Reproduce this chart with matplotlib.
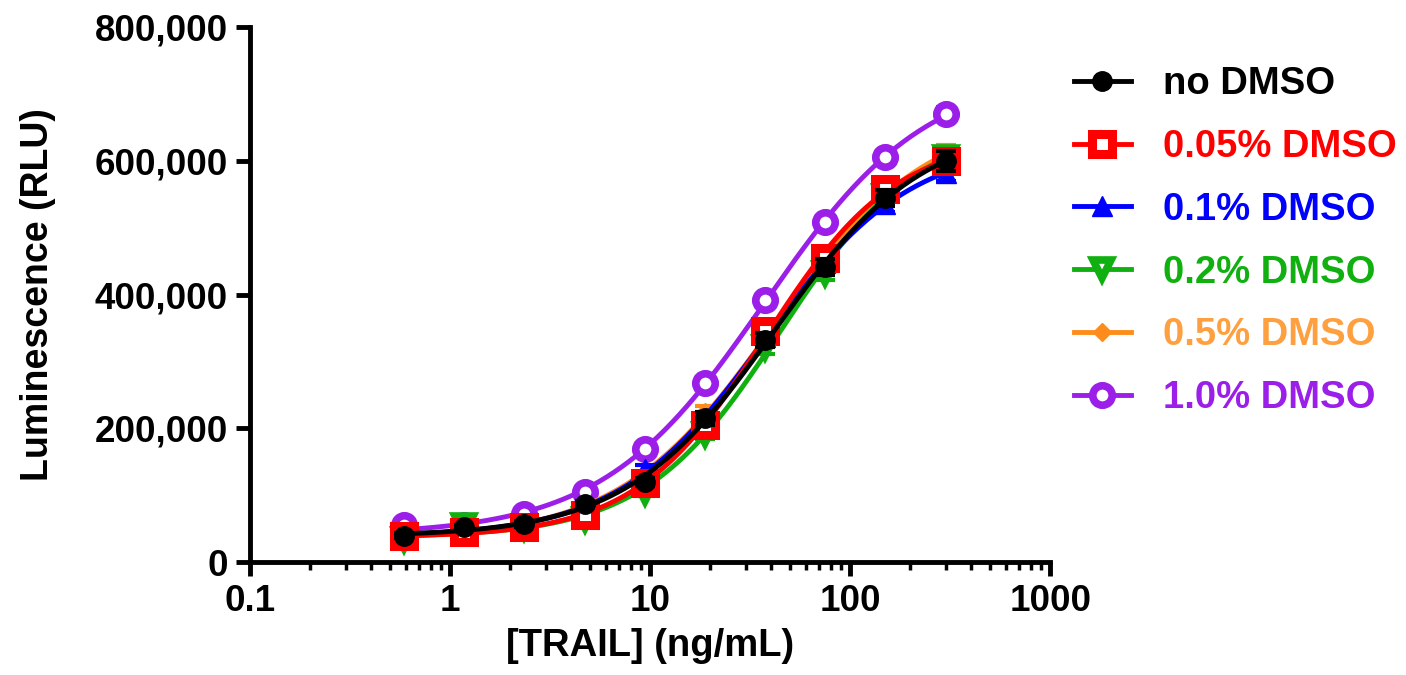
import numpy as np
import matplotlib.pyplot as plt
from matplotlib.ticker import FuncFormatter, LogLocator, NullFormatter

plt.rcParams['font.family'] = ['Liberation Sans', 'DejaVu Sans']
plt.rcParams['font.weight'] = 'bold'

# TRAIL concentration (ng/mL), two-fold dilutions
conc = [0.586, 1.17, 2.34, 4.69, 9.38, 18.75, 37.5, 75, 150, 300]

no_dmso   = [40e3, 52e3, 57e3, 87e3, 120e3, 215e3, 332e3, 442e3, 545e3, 600e3]
dmso_005  = [40e3, 45e3, 52e3, 70e3, 118e3, 205e3, 345e3, 455e3, 558e3, 600e3]
dmso_01   = [42e3, 50e3, 55e3, 80e3, 140e3, 212e3, 337e3, 447e3, 535e3, 582e3]
dmso_02   = [35e3, 55e3, 52e3, 65e3, 105e3, 192e3, 322e3, 432e3, 548e3, 605e3]
dmso_05   = [42e3, 48e3, 58e3, 80e3, 130e3, 225e3, 340e3, 450e3, 550e3, 612e3]
dmso_10   = [55e3, 55e3, 72e3, 105e3, 170e3, 268e3, 392e3, 508e3, 605e3, 670e3]

# error bars (SEM)
err_no   = [4e3, 4e3, 4e3, 5e3, 6e3, 10e3, 10e3, 12e3, 12e3, 15e3]
err_005  = [4e3, 4e3, 4e3, 5e3, 6e3, 8e3, 10e3, 10e3, 10e3, 12e3]
err_01   = [4e3, 4e3, 4e3, 5e3, 6e3, 8e3, 10e3, 10e3, 12e3, 12e3]
err_02   = [4e3, 4e3, 4e3, 5e3, 6e3, 8e3, 10e3, 10e3, 10e3, 12e3]
err_05   = [4e3, 4e3, 4e3, 5e3, 6e3, 8e3, 10e3, 10e3, 10e3, 12e3]
err_10   = [4e3, 4e3, 4e3, 5e3, 6e3, 8e3, 8e3, 8e3, 10e3, 10e3]

labels = ['no DMSO', '0.05% DMSO', '0.1% DMSO', '0.2% DMSO', '0.5% DMSO', '1.0% DMSO']
colors = ['#000000', '#ff0000', '#0000ff', '#10b010', '#ff8c1a', '#9b1fe8']
text_colors = ['#000000', '#ff0000', '#0000ff', '#10b010', '#ffa040', '#9b1fe8']
series = [no_dmso, dmso_005, dmso_01, dmso_02, dmso_05, dmso_10]
errors = [err_no, err_005, err_01, err_02, err_05, err_10]
styles = [dict(marker='o', ms=14, mfc='#000000', mec='#000000', mew=1),
          dict(marker='s', ms=14, mfc='white', mec='#ff0000', mew=6.5),
          dict(marker='^', ms=14, mfc='#0000ff', mec='#0000ff', mew=1),
          dict(marker='v', ms=13, mfc='white', mec='#10b010', mew=5.5),
          dict(marker='D', ms=9, mfc='#ff8c1a', mec='#ff8c1a', mew=1),
          dict(marker='o', ms=14, mfc='white', mec='#9b1fe8', mew=5.5)]


def four_pl(x, p):
    bottom, top, logec, hill = p
    return bottom + (top - bottom) / (1 + 10 ** ((logec - np.log10(x)) * hill))


def fit_4pl(x, y):
    x = np.asarray(x, float)
    y = np.asarray(y, float)
    p = np.array([y.min(), y.max() * 1.1, np.log10(40), 1.0])
    lam = 1e-2
    for _ in range(300):
        r = y - four_pl(x, p)
        J = np.zeros((len(x), 4))
        for k in range(4):
            dp = np.zeros(4)
            dp[k] = 1e-6 * max(abs(p[k]), 1.0)
            J[:, k] = (four_pl(x, p + dp) - four_pl(x, p)) / dp[k]
        A = J.T @ J
        g = J.T @ r
        step = np.linalg.solve(A + lam * np.diag(np.diag(A)), g)
        new = p + step
        if np.sum((y - four_pl(x, new)) ** 2) < np.sum(r ** 2):
            p = new
            lam *= 0.5
        else:
            lam *= 4
    return p


fig = plt.figure(figsize=(14.06, 6.75), dpi=100)
ax = fig.add_axes([0.178, 0.167, 0.569, 0.793])

xs = np.logspace(np.log10(0.586), np.log10(300), 300)
# purple drawn first, black on top
for i in [5, 4, 3, 2, 1, 0]:
    z = 2 + (5 - i) * 3
    p = fit_4pl(conc, series[i])
    ax.plot(xs, four_pl(xs, p), color=colors[i], lw=3.5, zorder=z)
    ax.errorbar(conc, series[i], yerr=errors[i], fmt='none', ecolor=colors[i],
                elinewidth=3, capsize=7, capthick=3, zorder=z + 1)
    ax.plot(conc, series[i], ls='none', zorder=z + 2, **styles[i])

# legend handles
handles = []
for i in range(6):
    h, = ax.plot([], [], color=colors[i], lw=3.5, **styles[i])
    handles.append(h)
leg = ax.legend(handles, labels, loc='upper left', bbox_to_anchor=(1.01, 0.955),
                frameon=False, fontsize=27.5, handlelength=1.5, handletextpad=0.85,
                labelspacing=0.7, borderaxespad=0)
for t, c in zip(leg.get_texts(), text_colors):
    t.set_color(c)
    t.set_fontweight('bold')

ax.set_xscale('log')
ax.set_xlim(0.1, 1000)
ax.set_ylim(0, 800000)
ax.set_yticks([0, 200000, 400000, 600000, 800000])
ax.yaxis.set_major_formatter(FuncFormatter(lambda v, _: f'{int(v):,}'))
ax.xaxis.set_major_formatter(FuncFormatter(lambda v, _: f'{v:g}'))
ax.xaxis.set_minor_locator(LogLocator(base=10, subs=np.arange(2, 10), numticks=20))
ax.xaxis.set_minor_formatter(NullFormatter())

for side in ['top', 'right']:
    ax.spines[side].set_visible(False)
for side in ['left', 'bottom']:
    ax.spines[side].set_linewidth(3.5)
ax.tick_params(which='major', length=10, width=3.5, labelsize=26.5, pad=6)
ax.tick_params(which='minor', length=6, width=2.5)

ax.set_xlabel('[TRAIL] (ng/mL)', fontsize=27.5, fontweight='bold', labelpad=6)
ax.set_ylabel('Luminescence (RLU)', fontsize=27, fontweight='bold', labelpad=28)

fig.savefig('out.png', dpi=100)
